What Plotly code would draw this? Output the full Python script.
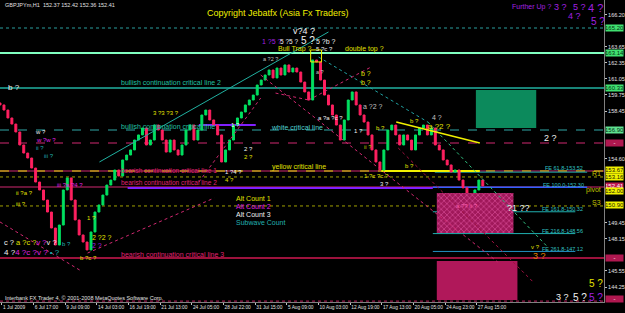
import plotly.graph_objects as go

# ---------------- data ----------------
first_open = 159.10
closes = [158.94, 158.53, 157.89, 157.40, 156.76, 155.71, 155.06, 154.66, 153.85, 152.72,
          152.08, 151.27, 150.30, 149.01, 147.64, 149.25, 152.08, 153.05, 151.27, 149.66,
          148.45, 147.88, 147.24, 148.69, 150.30, 150.87, 151.67, 152.48, 152.88, 153.69,
          153.21, 154.50, 154.90, 155.31, 156.11, 156.52, 157.08, 155.71, 156.11, 157.32,
          156.92, 156.11, 155.14, 156.11, 155.31, 154.90, 155.71, 156.92, 157.32, 156.11,
          156.92, 158.13, 158.53, 157.73, 157.32, 156.52, 154.34, 155.31, 156.11, 157.32,
          157.89, 158.37, 158.94, 159.34, 159.74, 160.55, 160.95, 161.36, 161.76, 161.12,
          161.92, 161.36, 162.17, 161.60, 161.92, 161.60, 160.79, 159.99, 159.34, 162.57,
          162.41, 160.95, 159.74, 158.94, 158.13, 157.32, 156.11, 157.73, 159.34, 159.99,
          158.94, 158.13, 157.56, 156.52, 155.31, 154.34, 153.69, 155.31, 156.92, 157.32,
          156.52, 155.71, 156.52, 156.11, 155.31, 156.52, 157.08, 157.32, 156.52, 157.08,
          155.71, 155.31, 154.50, 154.10, 153.53, 153.69, 152.88, 152.25, 151.68, 151.27,
          152.08, 152.88, 152.41]
bar_step = 8            # H1 bars per drawn candle
first_bar = -4

time_labels = ["1 Jul 2009", "6 Jul 17:00", "9 Jul 09:00", "14 Jul 03:00", "16 Jul 19:00",
               "21 Jul 13:00", "24 Jul 05:00", "28 Jul 22:00", "31 Jul 15:00", "5 Aug 09:00",
               "10 Aug 03:00", "12 Aug 19:00", "17 Aug 13:00", "20 Aug 05:00", "24 Aug 23:00",
               "27 Aug 15:00"]
time_label_step = 64

# scale values that remain visible beside the coloured price marks
price_ticks = [166.20, 163.65, 162.35, 161.05, 159.75, 158.45,
               154.60, 149.45, 148.15, 145.55, 144.25]

# horizontal levels: price, colour, width, dash, from bar, to bar
FULL0, FULL1 = -4, 1217
levels = [
    (165.15, "#2a9d9d", 1, "dot", FULL0, FULL1),
    (163.13, "#80ffc0", 2, "solid", FULL0, FULL1),
    (160.31, "#20b0a0", 1.5, "solid", FULL0, FULL1),
    (156.92, "#30a8a8", 1, "dash", FULL0, FULL1),
    (155.87, "#d02870", 1, "dash", FULL0, FULL1),
    (153.61, "#d02870", 1, "solid", FULL0, FULL1),
    (153.61, "#e0e000", 1, "dash", FULL0, FULL1),
    (153.13, "#a0a000", 1, "dot", FULL0, FULL1),
    (152.32, "#d02870", 1, "solid", FULL0, FULL1),
    (152.24, "#8020ff", 2, "solid", 254, 871),
    (152.30, "#3060ff", 1.5, "solid", 871, 1183),
    (150.79, "#a0a000", 1, "dot", FULL0, FULL1),
    (153.52, "#20b0b0", 1, "solid", 875, 1183),
    (150.32, "#20b0b0", 1, "solid", 871, 1159),
    (148.56, "#20b0b0", 1, "solid", 871, 1159),
    (147.12, "#2090c0", 1, "solid", 871, 1159),
    (146.59, "#d01850", 1.5, "solid", FULL0, FULL1),
    (153.61, "#f0f000", 2, "solid", 767, 966),
    (157.32, "#8020ff", 2, "solid", 398, 513),
]

# trend lines: (bar, price) -> (bar, price), colour, width, dash
trendlines = [
    (197, 154.34, 660, 164.83, "#20b0a0", 1, "solid"),
    (640, 162.81, 861, 157.56, "#20a0a0", 1, "dot"),
    (861, 157.56, 1103, 147.48, "#30c080", 1, "dot"),
    (173, 146.99, 429, 151.43, "#d02870", 1, "dot"),
    (398, 152.72, 523, 159.50, "#d02870", 1, "dot"),
    (523, 161.36, 1002, 146.27, "#d02870", 1, "dot"),
    (801, 155.47, 1076, 144.57, "#a01040", 1, "dot"),
    (-4, 149.50, 157, 145.62, "#d02870", 1, "dot"),
    (553, 159.90, 620, 159.34, "#d02870", 1, "dot"),
    (620, 159.34, 746, 162.00, "#d02870", 1, "dot"),
    (797, 157.56, 966, 155.87, "#f0f000", 1.5, "solid"),
]

# zones: bar0, bar1, price0, price1
green_zone = (958, 1080, 157.08, 160.15)
hatched_zone = (879, 1034, 148.61, 151.84)
red_zone = (879, 1042, 143.20, 146.35)
trap_box = (624, 646, 162.41, 163.38)

# coloured price labels on the right scale: price, text, background, text colour
scale_marks = [
    (165.15, "165.20", "#40e070", "#003010"),
    (163.13, "163.14", "#40e070", "#003010"),
    (160.31, "160.33", "#40e070", "#003010"),
    (156.92, "156.90", "#60e090", "#003010"),
    (155.87, "-", "#b01850", "#ffffff"),
    (153.67, "153.67", "#f0f000", "#202000"),
    (153.16, "153.16", "#f0f000", "#202000"),
    (152.41, "152.41", "#c01850", "#ffffff"),
    (152.00, "152.00", "#f0f000", "#202000"),
    (150.90, "150.90", "#f0f000", "#202000"),
    (146.59, "-", "#b01850", "#ffffff"),
    (143.25, "-", "#b01850", "#ffffff"),
]

# ---------------- figure ----------------
bars = [first_bar + bar_step * i for i in range(len(closes))]
opens = [first_open] + closes[:-1]
highs = [max(o, c) for o, c in zip(opens, closes)]
lows = [min(o, c) for o, c in zip(opens, closes)]

fig = go.Figure()

# hatched zone
x0, x1, y0, y1 = hatched_zone
fig.add_trace(go.Scatter(x=[x0, x1, x1, x0, x0], y=[y0, y0, y1, y1, y0], mode="lines",
                         line=dict(width=0), fill="toself", fillcolor="#a0185a",
                         fillpattern=dict(shape="x", fgcolor="#ff70c0", bgcolor="#a0185a",
                                          size=4, solidity=0.35),
                         hoverinfo="skip"))

fig.add_trace(go.Candlestick(x=bars, open=opens, high=highs, low=lows, close=closes,
                             increasing=dict(line=dict(color="#00e060", width=1), fillcolor="#00e060"),
                             decreasing=dict(line=dict(color="#ff2060", width=1), fillcolor="#ff2060"),
                             whiskerwidth=0, hoverinfo="skip"))

shapes = []
for p, col, w, dash, b0, b1 in levels:
    shapes.append(dict(type="line", xref="x", yref="y", x0=b0, x1=b1, y0=p, y1=p,
                       line=dict(color=col, width=w, dash=dash), layer="below"))
for b0, p0, b1, p1, col, w, dash in trendlines:
    shapes.append(dict(type="line", xref="x", yref="y", x0=b0, x1=b1, y0=p0, y1=p1,
                       line=dict(color=col, width=w, dash=dash), layer="above"))
for zone, col in [(green_zone, "#0c8a5c"), (red_zone, "#b0185a")]:
    a0, a1, c0, c1 = zone
    shapes.append(dict(type="rect", xref="x", yref="y", x0=a0, x1=a1, y0=c0, y1=c1,
                       fillcolor=col, line=dict(width=0), layer="below"))
a0, a1, c0, c1 = trap_box
shapes.append(dict(type="rect", xref="x", yref="y", x0=a0, x1=a1, y0=c0, y1=c1,
                   line=dict(color="#f0f000", width=1), fillcolor="rgba(0,0,0,0)"))
# bottom dotted border
shapes.append(dict(type="line", xref="paper", yref="paper", x0=0, x1=1, y0=0.003, y1=0.003,
                   line=dict(color="#c02060", width=1, dash="dot")))

FONT = "Liberation Sans, Arial, sans-serif"
PW, PH = 607, 302


def P(x, y):
    return x / PW, 1 - y / PH


texts = [
    ("GBPJPYm,H1  152.37 152.42 152.36 152.41", 3, 5, "#e0e0e0", 5.5, "left"),
    ("Copyright Jebatfx (Asia Fx Traders)", 279, 13, "#f0f000", 9, "center"),
    ("Further Up ?", 513, 7, "#a020e0", 7, "left"),
    ("3 ?", 555, 7, "#a020e0", 9, "left"),
    ("5 ?", 574, 7, "#a020e0", 9, "left"),
    ("4 ?", 589, 8, "#a020e0", 11, "left"),
    ("4 ?", 569, 16, "#a020e0", 9, "left"),
    ("5 ?", 592, 21, "#a020e0", 10, "left"),
    ("bullish continuation critical line 2", 120, 83, "#20c0a0", 7, "left"),
    ("bullish continuation critical line", 120, 126, "#20c0a0", 7, "left"),
    ("white critical line", 270, 127, "#50d0d0", 7, "left"),
    ("yellow critical line", 271, 167, "#e0e000", 7, "left"),
    ("bearish continuation critical line 1", 120, 170, "#e02070", 6.5, "left"),
    ("bearish continuation critical line 2", 120, 182, "#e02070", 6.5, "left"),
    ("bearish continuation critical line 3", 120, 254, "#e02070", 7, "left"),
    ("Bull Trap ?", 277, 49, "#e0e000", 7, "left"),
    ("double top ?", 345, 49, "#e0e000", 7, "left"),
    ("Alt Count 1", 235, 198, "#e0e000", 7, "left"),
    ("Alt Count 2", 235, 206, "#e020e0", 7, "left"),
    ("Alt Count 3", 235, 214, "#f0f0f0", 7, "left"),
    ("Subwave Count", 235, 222, "#20b0b0", 7, "left"),
    ("FE 61.8-153.52", 546, 168, "#30c0c0", 5.5, "left"),
    ("FE 100.0-152.30", 544, 185, "#30c0c0", 5.5, "left"),
    ("FE 161.8-150.32", 543, 209, "#30c0c0", 5.5, "left"),
    ("FE 216.8-148.56", 543, 231, "#30c0c0", 5.5, "left"),
    ("FE 261.8-147.12", 543, 249, "#30c0c0", 5.5, "left"),
    ("R1", 606, 173, "#c0c000", 7, "right"),
    ("pivot", 606, 190, "#c0c000", 7, "right"),
    ("S3", 606, 202, "#c0c000", 7, "right"),
    ("Interbank FX Trader 4, \u00a9 2001-2008 MetaQuotes Software Corp.", 3, 298, "#e0e0e0", 5.5, "left"),
    ("b ?", 6, 88, "#f0f0f0", 8, "left"),
    ("v?4 ?", 292, 31, "#f0f0f0", 9, "left"),
    ("1 ?5 ?", 261, 41, "#a020e0", 7, "left"),
    ("5 ?5 ?", 279, 41, "#f0f0f0", 6.5, "left"),
    ("5 ?", 300, 40, "#f0f0f0", 10, "left"),
    ("5 ?b ?", 316, 41, "#f0f0f0", 7, "left"),
    ("5 ?c ?", 316, 49, "#f0f0f0", 6, "left"),
    ("a ?2 ?", 262, 59, "#c0c0c0", 5.5, "left"),
    ("a ?", 316, 72, "#c0c0c0", 5.5, "left"),
    ("b ?", 361, 73, "#e0e000", 7, "left"),
    ("b ?", 361, 83, "#e0e000", 7, "left"),
    ("a ?2 ?", 363, 107, "#c0c0c0", 7, "left"),
    ("4 ?", 432, 117, "#c0c0c0", 7, "left"),
    ("a ?2 ?", 428, 126, "#e0e000", 8, "left"),
    ("b ?", 410, 121, "#e0e000", 6, "left"),
    ("2 ?", 545, 138, "#f0f0f0", 9, "left"),
    ("3 ?3 ?3 ?", 152, 113, "#e0e000", 6, "left"),
    ("1 ?", 230, 125, "#f0f0f0", 6, "left"),
    ("2 ?", 243, 149, "#f0f0f0", 6, "left"),
    ("2 ?", 243, 157, "#e0e000", 6, "left"),
    ("a ?a ?c ?", 318, 118, "#f0f0f0", 6, "left"),
    ("1 ?", 354, 131, "#f0f0f0", 6, "left"),
    ("b ?", 376, 128, "#e0e000", 6, "left"),
    ("ii ?", 364, 147, "#c0c000", 6, "left"),
    ("b ?", 405, 166, "#e0e000", 6, "left"),
    ("1 ?c ?c ?", 364, 176, "#e0e000", 6, "left"),
    ("3 ?", 380, 184, "#f0f0f0", 6, "left"),
    ("1 ?4 ?", 224, 172, "#f0f0f0", 6, "left"),
    ("4 ?", 224, 180, "#e0e000", 6, "left"),
    ("w ?", 33, 132, "#f0f0f0", 6, "left"),
    ("w ?w ?", 34, 140, "#e020e0", 6, "left"),
    ("ii ?", 34, 148, "#20b0b0", 6, "left"),
    ("iii ?", 42, 156, "#20b0b0", 6, "left"),
    ("iii ?a ?4 ?", 55, 185, "#e020e0", 6, "left"),
    ("ii ?a ?", 14, 193, "#e0e000", 6, "left"),
    ("iii ?", 14, 204, "#e0e000", 6, "left"),
    ("1 ?", 85, 218, "#e0e000", 6, "left"),
    ("2 ?2 ?", 90, 237, "#e0e000", 7, "left"),
    ("2 ?", 90, 245, "#a020e0", 7, "left"),
    ("b ?", 60, 244, "#20b0b0", 6, "left"),
    ("b ?c ?", 78, 258, "#e0e000", 6, "left"),
    ("<span style='color:#f0f0f0'>c ? </span><span style='color:#e0e000'>a ?c ?</span>"
     "<span style='color:#e020e0'>v ?</span><span style='color:#f0f0f0'>v ?</span>", 2, 242, None, 7.5, "left"),
    ("<span style='color:#f0f0f0'>4 ?</span><span style='color:#e020e0'>4 ?c ?v ?</span>"
     "<span style='color:#20b0b0'> \u2022 ?</span>", 2, 253, None, 8, "left"),
    ("?1 ??", 508, 208, "#f0f0f0", 9, "left"),
    ("a ?? ii ?", 456, 206, "#ff60b0", 6, "left"),
    ("v ?", 532, 247, "#e0e000", 6, "left"),
    ("3 ?", 534, 256, "#e08000", 9, "left"),
    ("5 ?", 590, 283, "#e0e000", 10, "left"),
    ("3 ?", 557, 297, "#f0f0f0", 9, "left"),
    ("5 ?", 574, 297, "#f0f0f0", 10, "left"),
    ("5 ?", 590, 297, "#a020e0", 10, "left"),
]

annotations = []
for txt, x, y, col, size, anchor in texts:
    fx, fy = P(x, y)
    f = dict(family=FONT, size=size)
    if col:
        f["color"] = col
    annotations.append(dict(text=txt, x=fx, y=fy, xref="paper", yref="paper", xanchor=anchor,
                            yanchor="middle", showarrow=False, font=f))

for p, txt, bg, fc in scale_marks:
    annotations.append(dict(text=txt, x=1, y=p, xref="paper", yref="y", xanchor="left",
                            yanchor="middle", xshift=1, showarrow=False, bgcolor=bg,
                            borderpad=0, width=17, align="center",
                            font=dict(family=FONT, size=6, color=fc)))

fig.update_layout(
    width=625, height=313, margin=dict(l=0, r=18, t=0, b=11),
    paper_bgcolor="#000000", plot_bgcolor="#000000", showlegend=False,
    shapes=shapes, annotations=annotations,
    xaxis=dict(range=[FULL0, FULL1], rangeslider=dict(visible=False), showgrid=False,
               zeroline=False, tickmode="array",
               tickvals=[time_label_step * k for k in range(len(time_labels))],
               ticktext=time_labels, ticks="outside", ticklen=2, tickcolor="#c0c0c0",
               ticklabelposition="outside right", tickangle=0,
               tickfont=dict(family=FONT, size=4.8, color="#e0e0e0"),
               showline=True, linecolor="#808080", linewidth=1, fixedrange=True),
    yaxis=dict(range=[143.04, 167.41], side="right", showgrid=False, zeroline=False,
               tickmode="array", tickvals=price_ticks,
               ticktext=[f"{v:.2f}" for v in price_ticks], ticks="outside", ticklen=2,
               tickcolor="#c0c0c0", tickfont=dict(family=FONT, size=5.5, color="#e0e0e0"),
               showline=True, linecolor="#808080", linewidth=1, fixedrange=True),
)

fig.write_html("out.html")
